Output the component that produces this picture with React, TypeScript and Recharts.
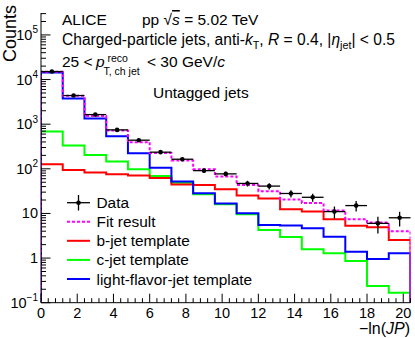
import { ComposedChart, Line, Scatter, ErrorBar, XAxis, YAxis } from "recharts";

const FONT = "'Liberation Sans', Arial, Helvetica, sans-serif";

// -ln(JP) binning, 17 bins of width 1.2
const binEdges = [0, 1.2, 2.4, 3.6, 4.8, 6, 7.2, 8.4, 9.6, 10.8, 12, 13.2, 14.4, 15.6, 16.8, 18, 19.2, 20.4];
const binCenters = [0.6, 1.8, 3, 4.2, 5.4, 6.6, 7.8, 9, 10.2, 11.4, 12.6, 13.8, 15, 16.2, 17.4, 18.6, 19.8];
const binHalfWidth = [0.6, 0.6, 0.6, 0.6, 0.6, 0.6, 0.6, 0.6, 0.6, 0.6, 0.6, 0.6, 0.6, 0.6, 0.6, 0.6, 0.6];

const dataCounts = [15100, 4380, 1640, 745, 438, 236, 164, 91, 77, 47, 41, 28, 23, 11, 15, 6, 8];
const dataErrors = [123, 66, 40, 27, 21, 15.4, 12.8, 9.5, 8.8, 6.9, 6.4, 5.3, 4.8, 3.3, 3.9, 2.45, 2.9];
const fitResult = [14900, 4310, 1535, 720, 395, 227, 153, 98, 67, 43.5, 31.5, 20.6, 17.2, 11.7, 7.4, 6.3, 4.0];
const bJetTemplate = [126, 94, 83, 76, 71, 62.5, 44.7, 43.5, 34.9, 25.3, 21.7, 12.4, 11, 7.4, 5.3, 4.93, 2.55];
const cJetTemplate = [682, 331, 205, 145, 98, 69, 49, 27, 16, 9.6, 4.27, 2.97, 1.57, 1.28, 0.86, 0.237, 0.168];
const lightJetTemplate = [14350, 3750, 1336, 538, 224, 105, 52, 28.4, 16.8, 10.1, 5.5, 5.4, 4.66, 3.0, 1.39, 0.95, 1.28];

const xLabelTicks = [0, 2, 4, 6, 8, 10, 12, 14, 16, 18, 20];
const yMajorTicks = [0.1, 1, 10, 100, 1000, 10000, 100000];
const yTickLabels = [
  ["10", "\u22121"],
  ["1", ""],
  ["10", ""],
  ["10", "2"],
  ["10", "3"],
  ["10", "4"],
  ["10", "5"],
];

const Y_MIN = 0.1;
const Y_MAX = 3.1e5;
const X_MAX = 20.4;

// minor ticks every 0.4 on x, 1..9 per decade on y
const xAllTicks = Array.from({ length: 52 }, (_, i) => +(i * 0.4).toFixed(1));
const yAllTicks: number[] = [];
for (let e = -1; e <= 5; e++) {
  for (let m = 1; m <= 9; m++) {
    const v = +(m * Math.pow(10, e)).toPrecision(6);
    if (v <= Y_MAX) yAllTicks.push(v);
  }
}

const histRows = (vals: number[]) => [
  { x: binEdges[0], y: Y_MIN },
  ...vals.map((v, i) => ({ x: binEdges[i], y: v })),
  { x: binEdges[vals.length], y: vals[vals.length - 1] },
  { x: binEdges[vals.length], y: Y_MIN },
];

const dataPoints = binCenters.map((c, i) => ({
  x: c,
  y: dataCounts[i],
  err: dataErrors[i],
  xerr: binHalfWidth[i],
}));

const XTick = ({ x, y, payload, top }: any) => {
  const v = payload.value;
  const major = xLabelTicks.some((t) => Math.abs(t - v) < 1e-6);
  const len = major ? 9 : 4.5;
  const dir = top ? 1 : -1;
  return (
    <g>
      <line x1={x} x2={x} y1={y} y2={y + dir * len} stroke="#000" strokeWidth={1} />
      {!top && major && (
        <text x={x} y={y + 15.5} textAnchor="middle" fontSize={14.5} fontFamily={FONT} fill="#000">
          {v}
        </text>
      )}
    </g>
  );
};

const YTick = ({ x, y, payload, right }: any) => {
  const v = payload.value;
  const idx = yMajorTicks.findIndex((t) => Math.abs(t - v) / t < 1e-6);
  const major = idx >= 0;
  const len = major ? 9.5 : 5;
  const dir = right ? -1 : 1;
  return (
    <g>
      <line x1={x} x2={x + dir * len} y1={y} y2={y} stroke="#000" strokeWidth={1} />
      {!right && major && (
        <text x={x - 3} y={y + 5} textAnchor="end" fontSize={14.5} fontFamily={FONT} fill="#000">
          {yTickLabels[idx][0]}
          {yTickLabels[idx][1] && (
            <tspan dy={-6.5} fontSize={10}>
              {yTickLabels[idx][1]}
            </tspan>
          )}
        </text>
      )}
    </g>
  );
};

const legendItems = [
  { label: "Fit result", color: "#ff00ff", dash: "3 2" },
  { label: "b-jet template", color: "#ff0000", dash: undefined },
  { label: "c-jet template", color: "#00ff00", dash: undefined },
  { label: "light-flavor-jet template", color: "#0000ff", dash: undefined },
];

const App = () => {
  return (
    <div style={{ position: "absolute", left: 0, top: 0, width: 415, height: 338, background: "#fff" }}>
      <ComposedChart width={415} height={338} margin={{ top: 13, right: 4.5, bottom: 0, left: 0 }}>
        <XAxis
          type="number"
          dataKey="x"
          domain={[0, X_MAX]}
          allowDataOverflow
          ticks={xAllTicks}
          interval={0}
          height={35.3}
          tickSize={0}
          tickMargin={0}
          tickLine={false}
          axisLine={{ stroke: "#000" }}
          tick={(p: any) => <XTick {...p} />}
        />
        <XAxis
          xAxisId="top"
          orientation="top"
          type="number"
          dataKey="x"
          domain={[0, X_MAX]}
          allowDataOverflow
          ticks={xAllTicks}
          interval={0}
          height={0}
          tickSize={0}
          tickMargin={0}
          tickLine={false}
          axisLine={{ stroke: "#000" }}
          tick={(p: any) => <XTick {...p} top />}
        />
        <YAxis
          type="number"
          dataKey="y"
          scale="log"
          domain={[Y_MIN, Y_MAX]}
          allowDataOverflow
          ticks={yAllTicks}
          interval={0}
          width={41}
          tickSize={0}
          tickMargin={0}
          tickLine={false}
          axisLine={{ stroke: "#000" }}
          tick={(p: any) => <YTick {...p} />}
        />
        <YAxis
          yAxisId="right"
          orientation="right"
          type="number"
          dataKey="y"
          scale="log"
          domain={[Y_MIN, Y_MAX]}
          allowDataOverflow
          ticks={yAllTicks}
          interval={0}
          width={0}
          tickSize={0}
          tickMargin={0}
          tickLine={false}
          axisLine={{ stroke: "#000" }}
          tick={(p: any) => <YTick {...p} right />}
        />
        <Line data={histRows(cJetTemplate)} dataKey="y" type="stepAfter" stroke="#00ff00" strokeWidth={2} dot={false} activeDot={false} isAnimationActive={false} />
        <Line data={histRows(bJetTemplate)} dataKey="y" type="stepAfter" stroke="#ff0000" strokeWidth={2} dot={false} activeDot={false} isAnimationActive={false} />
        <Line data={histRows(lightJetTemplate)} dataKey="y" type="stepAfter" stroke="#0000ff" strokeWidth={2} dot={false} activeDot={false} isAnimationActive={false} />
        <Line data={histRows(fitResult)} dataKey="y" type="stepAfter" stroke="#ff00ff" strokeWidth={2} strokeDasharray="3 2" dot={false} activeDot={false} isAnimationActive={false} />
        <Scatter
          data={dataPoints}
          dataKey="y"
          isAnimationActive={false}
          shape={(p: any) => <circle cx={p.cx} cy={p.cy} r={2.3} fill="#000" />}
        >
          <ErrorBar dataKey="err" direction="y" width={0} stroke="#000" strokeWidth={1.3} />
          <ErrorBar dataKey="xerr" direction="x" width={0} stroke="#000" strokeWidth={1.3} />
        </Scatter>
      </ComposedChart>

      <svg
        width={415}
        height={338}
        style={{ position: "absolute", left: 0, top: 0, pointerEvents: "none" }}
        fontFamily={FONT}
        fill="#000"
      >
        {/* axis titles */}
        <text x={16} y={5} transform="rotate(-90 16 5)" textAnchor="end" fontSize={18}>
          Counts
        </text>
        <text x={410} y={334} textAnchor="end" fontSize={16}>
          {"\u2212ln("}
          <tspan fontStyle="italic">JP</tspan>)
        </text>

        {/* header */}
        <text x={62} y={25} fontSize={15.5}>ALICE</text>
        <text x={142} y={25} fontSize={15.5}>
          pp {"\u221A"}
          <tspan fontStyle="italic" textDecoration="overline">s</tspan> = 5.02 TeV
        </text>
        <text x={62} y={45} fontSize={15.6}>
          Charged-particle jets, anti-
          <tspan fontStyle="italic">k</tspan>
          <tspan fontSize={10.8} dy={4}>T</tspan>
          <tspan dy={-4}>, </tspan>
          <tspan fontStyle="italic">R</tspan> = 0.4, |
          <tspan fontStyle="italic">{"\u03B7"}</tspan>
          <tspan fontSize={10.8} dy={4}>jet</tspan>
          <tspan dy={-4}>| &lt; 0.5</tspan>
        </text>
        <text x={62} y={67} fontSize={15.5}>25 &lt;</text>
        <text x={96} y={67} fontSize={15.5} fontStyle="italic">p</text>
        <text x={107.5} y={62} fontSize={10.5}>reco</text>
        <text x={103.5} y={75} fontSize={10.5}>T, ch jet</text>
        <text x={147} y={67} fontSize={15.5}>
          &lt; 30 GeV/<tspan fontStyle="italic">c</tspan>
        </text>
        <text x={153} y={98} fontSize={15.5}>Untagged jets</text>

        {/* legend */}
        <line x1={67} x2={90} y1={202.7} y2={202.7} stroke="#000" strokeWidth={1.3} />
        <line x1={78.5} x2={78.5} y1={195} y2={210.5} stroke="#000" strokeWidth={1.3} />
        <circle cx={78.5} cy={202.7} r={2.3} fill="#000" />
        <text x={96.5} y={208.2} fontSize={15.4}>Data</text>
        {legendItems.map((it, i) => {
          const cy = 221.7 + i * 19.1;
          return (
            <g key={it.label}>
              <line x1={67} x2={90} y1={cy} y2={cy} stroke={it.color} strokeWidth={2} strokeDasharray={it.dash} />
              <text x={96.5} y={cy + 5.5} fontSize={15.4}>{it.label}</text>
            </g>
          );
        })}
      </svg>
    </div>
  );
};

export default App;
